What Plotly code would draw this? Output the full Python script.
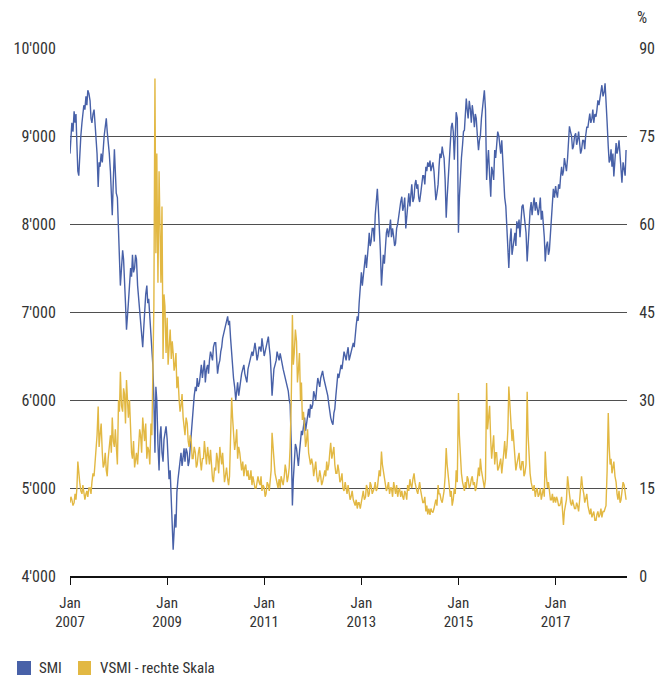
import plotly.graph_objects as go
import pandas as pd

# ---------------- data ----------------
# SMI (left axis): values on the 1st and 15th of each month ...
smi_2007 = [8800, 9150, 9280, 9250, 8600, 8800, 9150, 9350, 9450, 9520, 9400, 9150, 9300, 9000, 8420, 8650, 8700, 9000, 9200, 8950, 8600, 8100, 8850, 8350]
smi_2008 = [7800, 7300, 7700, 7400, 6800, 7100, 7500, 7650, 7500, 7600, 7150, 6900, 6600, 7000, 7300, 7150, 6700, 6400, 5400, 6000, 5200, 5700, 5300, 5600]
smi_2009 = [5550, 5100, 4900, 4300, 4700, 4950, 5200, 5400, 5350, 5300, 5400, 5300, 5600, 5950, 6150, 6250, 6200, 6400, 6350, 6200, 6400, 6450, 6500, 6600]
smi_2010 = [6650, 6300, 6450, 6600, 6750, 6850, 6950, 6900, 6530, 6250, 6000, 6200, 6150, 6300, 6400, 6250, 6350, 6420, 6550, 6600, 6550, 6500, 6600, 6700]
smi_2011 = [6500, 6600, 6720, 6500, 6050, 6350, 6450, 6500, 6530, 6420, 6300, 6200, 6100, 5950, 4800, 5300, 5450, 5250, 5500, 5600, 5800, 5750, 5900, 5950]
smi_2012 = [5950, 6050, 6150, 6200, 6250, 6330, 6200, 6110, 5950, 5800, 5720, 5900, 6150, 6250, 6400, 6450, 6500, 6530, 6450, 6550, 6650, 6750, 6950, 7100]
smi_2013 = [7450, 7400, 7650, 7600, 7900, 7800, 7950, 8100, 8400, 8000, 7300, 7650, 7800, 7950, 7950, 7850, 7850, 7780, 8000, 8150, 8310, 8200, 7950, 8150]
smi_2014 = [8200, 8450, 8300, 8500, 8450, 8250, 8450, 8550, 8650, 8700, 8720, 8650, 8600, 8270, 8450, 8800, 8880, 8750, 8070, 8500, 9000, 9150, 8730, 9270]
smi_2015 = [7900, 8600, 8900, 9066, 9426, 9200, 9300, 9350, 9100, 9200, 8840, 9000, 9350, 9520, 8500, 8840, 8310, 8600, 8840, 8950, 9000, 8800, 8650, 8300]
smi_2016 = [7900, 7500, 7950, 7730, 7900, 8030, 8050, 8100, 8220, 8050, 7575, 8000, 8250, 8200, 8150, 8180, 8200, 8050, 7990, 7575, 7800, 7700, 8160, 8400]
smi_2017 = [8430, 8300, 8400, 8650, 8600, 8690, 8750, 9110, 9000, 8880, 9030, 8950, 8900, 8840, 8950, 9000, 9100, 9255, 9200, 9150, 9220, 9405, 9450, 9577]
smi_2018 = [9500, 9450, 8877, 8730, 8650, 8540, 8920, 8850, 8770, 8470, 8620, 8840]
# ... and the readings in between (about the 8th and 23rd)
smi_mid_2007 = [8950, 9050, 9150, 8900, 8550, 9000, 9250, 9300, 9350, 9480, 9200, 9250, 9150, 8800, 8700, 8800, 8900, 9100, 9050, 8800, 8350, 8500, 8600, 8300]
smi_mid_2008 = [7600, 7500, 7600, 7100, 7050, 7300, 7400, 7450, 7650, 7300, 7000, 6750, 6800, 7200, 7100, 6950, 6550, 6000, 6150, 5500, 5600, 5400, 5550, 5700]
smi_mid_2009 = [5300, 5200, 4650, 4500, 4550, 5100, 5300, 5250, 5450, 5450, 5250, 5450, 5800, 6050, 6100, 6150, 6300, 6250, 6450, 6350, 6300, 6550, 6450, 6650]
smi_mid_2010 = [6450, 6400, 6550, 6700, 6800, 6900, 6850, 6700, 6300, 6150, 6100, 6050, 6250, 6350, 6300, 6200, 6400, 6500, 6500, 6650, 6450, 6600, 6550, 6600]
smi_mid_2011 = [6550, 6650, 6600, 6300, 6200, 6400, 6550, 6450, 6450, 6350, 6250, 6150, 6000, 5500, 5100, 5500, 5300, 5400, 5650, 5700, 5650, 5850, 5800, 5900]
smi_mid_2012 = [6100, 6000, 6250, 6150, 6300, 6250, 6150, 6050, 5850, 5750, 5850, 6050, 6300, 6350, 6350, 6550, 6450, 6600, 6500, 6600, 6600, 6850, 6900, 7300]
smi_mid_2013 = [7300, 7550, 7500, 7750, 7750, 7950, 7800, 8250, 8200, 7700, 7450, 7550, 7900, 7850, 8050, 7950, 7750, 7950, 8100, 8250, 8150, 8300, 8050, 8350]
smi_mid_2014 = [8350, 8250, 8450, 8400, 8300, 8350, 8550, 8450, 8600, 8650, 8600, 8700, 8450, 8350, 8650, 8750, 8800, 8500, 8300, 8800, 9100, 9050, 9100, 9200]
smi_mid_2015 = [8300, 8750, 9050, 9300, 9300, 9400, 9150, 9250, 9250, 9000, 8950, 9200, 9450, 9300, 8700, 8550, 8650, 8500, 8750, 9050, 8900, 8950, 8450, 8200]
smi_mid_2016 = [7700, 7800, 7650, 7850, 7750, 7950, 7850, 8200, 8100, 7900, 7800, 8150, 8100, 8300, 8250, 8100, 8300, 8150, 7850, 7750, 7650, 7900, 8250, 8300]
smi_mid_2017 = [8350, 8450, 8550, 8550, 8750, 8600, 8900, 9050, 8850, 9000, 8900, 9050, 8800, 8950, 8850, 9100, 9200, 9150, 9300, 9250, 9300, 9350, 9500, 9450]
smi_mid_2018 = [9600, 9150, 8700, 8850, 8800, 8750, 8800, 8950, 8600, 8700, 8550]

# VSMI (right axis, %): same dates
vsmi_2007 = [12.5, 13, 12.5, 13, 19.5, 16, 14, 14.5, 14, 13.5, 15, 16, 17, 20.5, 28.9, 24, 21, 19, 18, 20, 24, 27, 22, 21]
vsmi_2008 = [30, 34.8, 28, 31, 33.4, 27, 24, 20, 18.5, 21, 22, 24, 27, 23, 20, 21.5, 26, 34, 84.8, 72, 69, 50, 37, 46]
vsmi_2009 = [44, 40, 37, 38, 36, 32, 30, 29, 27, 24, 26, 22, 23, 20, 21, 19, 22, 18, 20, 21, 22, 19, 18, 16]
vsmi_2010 = [18, 20, 22, 19, 18, 17, 16.5, 17, 30.4, 24, 23, 20, 21, 18, 17, 19, 18, 16.5, 15.5, 16, 15, 17, 15.5, 14.5]
vsmi_2011 = [15, 14, 15.5, 16, 24.4, 20, 16.5, 15, 15, 16.5, 17, 18, 17, 22, 44.5, 38, 40, 35, 30, 26.6, 25, 23, 21, 19]
vsmi_2012 = [19, 18, 17, 16.5, 17, 16, 18, 19.5, 19, 22.7, 21, 19, 17.5, 18, 16.5, 15, 16, 14, 14.5, 13.5, 13, 12, 11.5, 12.5]
vsmi_2013 = [13, 14.5, 13.5, 15, 14, 15.5, 14.5, 16, 15, 18, 21.2, 18, 16, 15, 14, 15, 16, 14, 13.5, 15, 14.5, 13, 14, 15.5]
vsmi_2014 = [16.5, 15, 17.5, 15, 14, 16, 13.5, 12.5, 11, 10.5, 10.4, 11, 11.5, 13, 15.5, 14, 12.5, 14.5, 21.8, 17, 13.5, 12, 15, 18]
vsmi_2015 = [31.2, 20, 16, 14.5, 15, 16.5, 15.5, 17, 16, 15, 18.5, 20, 17, 15, 32.9, 27, 23, 22, 19, 21, 18.5, 20, 19, 23]
vsmi_2016 = [22, 32.3, 26, 25, 20, 19, 21, 18, 19.5, 17.5, 31.4, 20, 16, 14.5, 13.5, 15, 14, 13, 15, 21.2, 15, 14, 13, 12.5]
vsmi_2017 = [12.5, 13, 12, 13.5, 8.7, 12, 17, 14, 12, 12.5, 11.5, 12, 13, 17, 14, 13, 12, 10.5, 10, 11, 9.5, 11, 10.5, 10]
vsmi_2018 = [11, 12, 27.8, 19, 17.5, 19.5, 16, 13, 12.5, 14, 15.5, 13]
vsmi_mid_2007 = [13.5, 12, 14, 15, 17, 14.5, 15.5, 13, 14.5, 15, 14, 17.5, 19, 24, 22, 26, 18.5, 21, 17, 22, 21, 23, 25, 19]
vsmi_mid_2008 = [28, 29, 32, 26, 29, 30, 21, 23, 20, 19, 25, 21, 24, 26, 22, 19, 24, 46, 55, 50, 60, 63, 48, 38]
vsmi_mid_2009 = [36, 42, 40, 35, 38, 34, 28, 31, 25, 27, 23, 24, 20, 22, 18.5, 21, 19.5, 20, 23, 19, 20, 21.5, 16.5, 18.5]
vsmi_mid_2010 = [21, 17.5, 19.5, 21, 16, 18.5, 15.5, 22, 27, 21.5, 25, 22, 19, 19.5, 18.5, 17, 16.5, 18, 17, 15, 16.5, 16, 17, 15.5]
vsmi_mid_2011 = [13.5, 16, 14.5, 18, 21, 17.5, 15.5, 16.5, 17, 15.5, 19, 16, 18.5, 30, 36, 42, 33, 38, 33, 28, 22, 25, 19.5, 20]
vsmi_mid_2012 = [17, 19.5, 16, 18, 15.5, 17.5, 17, 18, 21, 20, 22, 17.5, 19, 16, 17.5, 14.5, 15, 15.5, 13, 14.5, 12.5, 13, 12.5, 11.5]
vsmi_mid_2013 = [14, 13, 15.5, 13.5, 16, 14, 15, 14.5, 16.5, 17, 19, 16.5, 14.5, 16, 15, 13.5, 14.5, 15.5, 14.5, 13.5, 13.5, 14.5, 13, 14.5]
vsmi_mid_2014 = [15.5, 16.5, 16, 14.5, 15.5, 14.5, 12.5, 13.5, 12, 11.5, 11.5, 10.8, 12.5, 12, 14, 13, 13.5, 17, 19, 15, 14.5, 13, 14, 16]
vsmi_mid_2015 = [24, 17.5, 15, 16, 17, 15, 16.5, 15.5, 14.5, 16.5, 17, 18, 15.5, 16.5, 25, 29, 20, 24, 21, 18, 19.5, 17.5, 21, 20]
vsmi_mid_2016 = [25, 28, 23, 22, 18, 20.5, 18.5, 19.5, 17, 19, 24, 17.5, 15, 15.5, 14.5, 13.5, 15, 14, 13.5, 17, 16, 13, 14, 13.5]
vsmi_mid_2017 = [13.5, 12, 12.5, 11, 11, 13, 15, 12.5, 13, 11.5, 12.5, 11, 14.5, 15, 12.5, 14, 11, 11.5, 10.5, 9.5, 10.5, 10, 11.5, 11]
vsmi_mid_2018 = [11.5, 18, 22, 20, 18.5, 17, 14, 14.5, 13, 16, 14]

left_ticks = [4000, 5000, 6000, 7000, 8000, 9000, 10000]
left_labels = ["4'000", "5'000", "6'000", "7'000", "8'000", "9'000", "10'000"]
right_ticks = [0, 15, 30, 45, 60, 75, 90]
x_ticks = ["2007-01-01", "2009-01-01", "2011-01-01", "2013-01-01", "2015-01-01", "2017-01-01"]
x_labels = ["Jan<br>2007", "Jan<br>2009", "Jan<br>2011", "Jan<br>2013", "Jan<br>2015", "Jan<br>2017"]
series_names = ["SMI", "VSMI - rechte Skala"]

# ---------------- assemble ----------------
smi_main = (smi_2007 + smi_2008 + smi_2009 + smi_2010 + smi_2011 + smi_2012 + smi_2013 +
            smi_2014 + smi_2015 + smi_2016 + smi_2017 + smi_2018)
smi_mid = (smi_mid_2007 + smi_mid_2008 + smi_mid_2009 + smi_mid_2010 + smi_mid_2011 + smi_mid_2012 +
           smi_mid_2013 + smi_mid_2014 + smi_mid_2015 + smi_mid_2016 + smi_mid_2017 + smi_mid_2018)
vsmi_main = (vsmi_2007 + vsmi_2008 + vsmi_2009 + vsmi_2010 + vsmi_2011 + vsmi_2012 + vsmi_2013 +
             vsmi_2014 + vsmi_2015 + vsmi_2016 + vsmi_2017 + vsmi_2018)
vsmi_mid = (vsmi_mid_2007 + vsmi_mid_2008 + vsmi_mid_2009 + vsmi_mid_2010 + vsmi_mid_2011 + vsmi_mid_2012 +
            vsmi_mid_2013 + vsmi_mid_2014 + vsmi_mid_2015 + vsmi_mid_2016 + vsmi_mid_2017 + vsmi_mid_2018)

slot_dates = pd.date_range("2007-01-01", periods=len(smi_main), freq="SMS")
mid_dates = slot_dates[:-1] + (slot_dates[1:] - slot_dates[:-1]) / 2


def interleave(main, mid):
    xs, ys = [], []
    for i, v in enumerate(main):
        xs.append(slot_dates[i])
        ys.append(v)
        if i < len(mid):
            xs.append(mid_dates[i])
            ys.append(mid[i])
    return xs, ys


smi_x, smi_y = interleave(smi_main, smi_mid)
vsmi_x, vsmi_y = interleave(vsmi_main, vsmi_mid)

BLUE = "#4861a8"
GOLD = "#e2b843"
FONT = "Liberation Sans Narrow, Roboto Condensed, DejaVu Sans Condensed, sans-serif"
TXT = "#333333"

fig = go.Figure()
fig.add_trace(go.Scatter(x=smi_x, y=smi_y, mode="lines", name=series_names[0],
                         line=dict(color=BLUE, width=1.4), showlegend=False, yaxis="y"))
fig.add_trace(go.Scatter(x=vsmi_x, y=vsmi_y, mode="lines", name=series_names[1],
                         line=dict(color=GOLD, width=1.4), showlegend=False, yaxis="y2"))

# manual legend (swatch squares + labels) below the plot
legend_items = [(BLUE, series_names[0], -0.0952, -0.0700, -0.0592),
                (GOLD, series_names[1], 0.0144, 0.0377, 0.0503)]
shapes, annotations = [], []
for color, label, sx0, sx1, tx in legend_items:
    shapes.append(dict(type="rect", xref="paper", yref="paper", x0=sx0, x1=sx1,
                       y0=-0.1875, y1=-0.161, fillcolor=color, line=dict(width=0)))
    annotations.append(dict(text=label, xref="paper", yref="paper", x=tx, y=-0.175,
                            xanchor="left", yanchor="middle", showarrow=False,
                            font=dict(size=15, color=TXT)))
annotations.append(dict(text="%", xref="paper", yref="paper", x=1.015, y=1.057,
                        xanchor="left", yanchor="middle", showarrow=False,
                        font=dict(size=16, color=TXT)))

fig.update_layout(
    width=657, height=676,
    margin=dict(l=70, r=30, t=48, b=100, autoexpand=False),
    paper_bgcolor="white", plot_bgcolor="white",
    font=dict(family=FONT, size=16, color=TXT),
    showlegend=False,
    xaxis=dict(
        type="date", range=["2007-01-01", "2018-06-22"],
        tickvals=x_ticks, ticktext=x_labels,
        showgrid=False, zeroline=False,
        showline=True, linecolor="#111111", linewidth=1.5,
        ticks="outside", ticklen=7, tickcolor="#111111", tickwidth=1.2,
        ticklabelstandoff=5,
        tickfont=dict(size=15), automargin=False,
    ),
    yaxis=dict(
        range=[4000, 10000], tickvals=left_ticks, ticktext=left_labels,
        showgrid=True, gridcolor="#4f4f4f", gridwidth=1.3,
        zeroline=False, showline=False, automargin=False,
        ticks="outside", ticklen=10, tickcolor="rgba(0,0,0,0)",
    ),
    yaxis2=dict(
        range=[0, 90], tickvals=right_ticks, overlaying="y", side="right",
        showgrid=False, zeroline=False, showline=False, automargin=False,
        ticks="outside", ticklen=8, tickcolor="rgba(0,0,0,0)",
    ),
    shapes=shapes,
    annotations=annotations,
)

# the page is photographed at exactly the figure size, so drop the default body margin
fig.write_html("out.html", config={"displayModeBar": False},
               post_script="document.body.style.margin='0px';")
